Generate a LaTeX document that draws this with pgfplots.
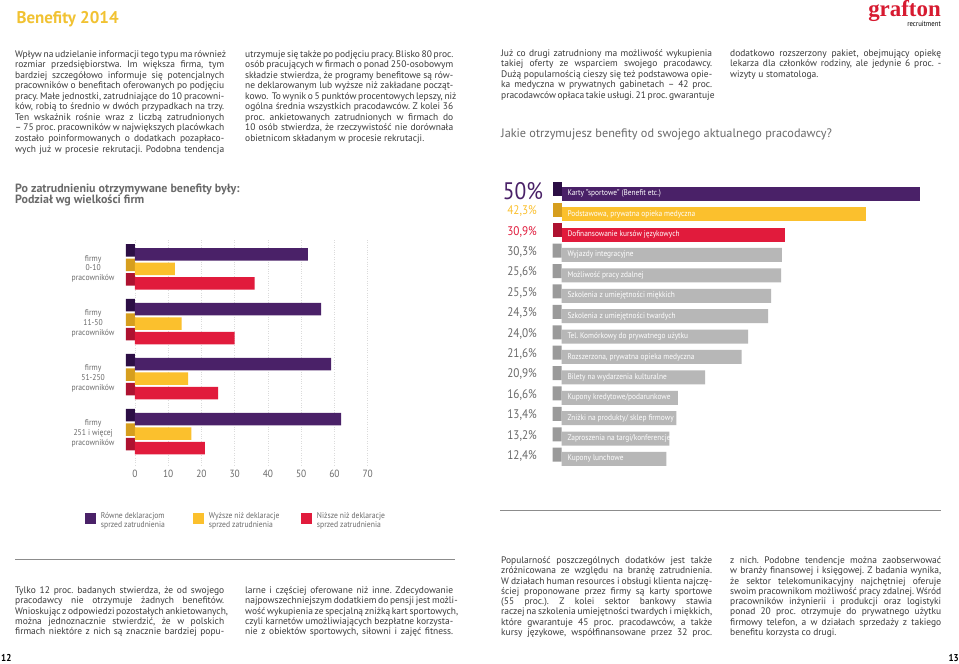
\documentclass[border=0pt]{standalone}
\usepackage{pgfplots}
\pgfplotsset{compat=1.18}
\usepackage{pgfplotstable}
\usepackage{fontspec}
\setmainfont{PT Sans}[FakeStretch=0.9]
\newfontfamily\bodyfont{PT Sans}[FakeStretch=1.0]
\newfontfamily\logofont{Liberation Serif}
\frenchspacing

\definecolor{purp}{HTML}{4A2168}
\definecolor{purpD}{HTML}{2C0E45}
\definecolor{yel}{HTML}{FBC02D}
\definecolor{yelD}{HTML}{D69E1E}
\definecolor{rd}{HTML}{E11B3C}
\definecolor{rdD}{HTML}{AE1230}
\definecolor{gr}{HTML}{B7B7B7}
\definecolor{grD}{HTML}{9A9A9A}
\definecolor{txt}{HTML}{3A3A3A}
\definecolor{lbl}{HTML}{6A6A6A}
\definecolor{gold}{HTML}{F1C232}
\definecolor{logo}{HTML}{D71A30}

\newlength\cw
\newcommand\J[1]{\hbox to \cw{#1}}
\newcommand\E[1]{\hbox to \cw{#1\hfil}}

\pgfplotsset{sq legend/.style={legend image code/.code={\fill[##1] (0bp,-5.3bp) rectangle (11bp,5.3bp);}},
  rows/.style={restrict expr to domain={\coordindex}{#1}}}

% benefity wg wielkosci firmy (proc.)
\pgfplotstableread{
grp rowne wyzsze nizsze
0 52 12 36
1 56 14 30
2 59 16 25
3 62 17 21
}\firmy

% benefity od aktualnego pracodawcy (dlugosc slupka)
\pgfplotstableread[col sep=semicolon]{
idx;len;lab
0;50.0;Karty "sportowe" (Benefit etc.)
1;42.5;Podstawowa, prywatna opieka medyczna
2;31.1;Dofinansowanie kursów językowych
3;30.7;Wyjazdy integracyjne
4;30.6;Możliwość pracy zdalnej
5;29.2;Szkolenia z umiejętności miękkich
6;28.8;Szkolenia z umiejętności twardych
7;26.0;Tel. Komórkowy do prywatnego użytku
8;25.1;Rozszerzona, prywatna opieka medyczna
9;20.0;Bilety na wydarzenia kulturalne
10;16.2;Kupony kredytowe/podarunkowe
11;16.0;Zniżki na produkty/ sklep firmowy
12;15.0;Zaproszenia na targi/konferencje
13;14.6;Kupony lunchowe
}\benefity

\begin{document}
\begin{tikzpicture}
\path[use as bounding box, fill=white] (0,0) rectangle (959bp,-664bp);

\begin{scope}[x=1bp, y=-1bp]
\node[anchor=west, text=gold, font=\bodyfont\fontsize{17}{17}\selectfont\bfseries] at (13,19) {Benefity 2014};
\node[anchor=east, text=logo, font=\logofont\bfseries\fontsize{23}{23}\selectfont, inner sep=0] at (941,11) {grafton};
\node[anchor=east, font=\fontsize{7.5}{8}\selectfont, inner sep=0] at (941,24) {recruitment};

\begin{scope}[every node/.style={anchor=base west, inner sep=0, text=txt, font=\bodyfont\fontsize{9.5}{10.6}\selectfont}]
\node at (15,57) {\setlength\cw{209bp}\parbox[t]{\cw}{%
\J{Wpływ na udzielanie informacji tego typu ma również}
\J{rozmiar przedsiębiorstwa. Im większa firma, tym}
\J{bardziej szczegółowo informuje się potencjalnych}
\J{pracowników o benefitach oferowanych po podjęciu}
\J{pracy. Małe jednostki, zatrudniające do 10 pracowni-}
\J{ków, robią to średnio w dwóch przypadkach na trzy.}
\J{Ten wskaźnik rośnie wraz z liczbą zatrudnionych}
\J{– 75 proc. pracowników w największych placówkach}
\J{zostało poinformowanych o dodatkach pozapłaco-}
\J{wych już w procesie rekrutacji. Podobna tendencja}}};
\node at (245,57) {\setlength\cw{208bp}\parbox[t]{\cw}{%
\J{utrzymuje się także po podjęciu pracy. Blisko 80 proc.}
\J{osób pracujących w firmach o ponad 250-osobowym}
\J{składzie stwierdza, że programy benefitowe są rów-}
\J{ne deklarowanym lub wyższe niż zakładane począt-}
\J{kowo.\ \ To wynik o 5 punktów procentowych lepszy, niż}
\J{ogólna średnia wszystkich pracodawców. Z kolei 36}
\J{proc. ankietowanych zatrudnionych w firmach do}
\J{10 osób stwierdza, że rzeczywistość nie dorównała}
\E{obietnicom składanym w procesie rekrutacji.}}};
\node at (501,56) {\setlength\cw{211bp}\parbox[t]{\cw}{%
\J{Już co drugi zatrudniony ma możliwość wykupienia}
\J{takiej oferty ze wsparciem swojego pracodawcy.}
\J{Dużą popularnością cieszy się też podstawowa opie-}
\J{ka medyczna w prywatnych gabinetach – 42 proc.}
\J{pracodawców opłaca takie usługi. 21 proc. gwarantuje}}};
\node at (730,56) {\setlength\cw{211bp}\parbox[t]{\cw}{%
\J{dodatkowo rozszerzony pakiet, obejmujący opiekę}
\J{lekarza dla członków rodziny, ale jedynie 6 proc. -}
\E{wizyty u stomatologa.}}};
\end{scope}

\begin{scope}[every node/.style={anchor=base west, inner sep=0, text=txt, font=\bodyfont\fontsize{9.5}{10.3}\selectfont}]
\node at (15,593.5) {\setlength\cw{209bp}\parbox[t]{\cw}{%
\J{Tylko 12 proc. badanych stwierdza, że od swojego}
\J{pracodawcy nie otrzymuje żadnych benefitów.}
\J{Wnioskując z odpowiedzi pozostałych ankietowanych,}
\J{można jednoznacznie stwierdzić, że w polskich}
\J{firmach niektóre z nich są znacznie bardziej popu-}}};
\node at (245,593.5) {\setlength\cw{208bp}\parbox[t]{\cw}{%
\J{larne i częściej oferowane niż inne. Zdecydowanie}
\J{najpowszechniejszym dodatkiem do pensji jest możli-}
\J{wość wykupienia ze specjalną zniżką kart sportowych,}
\J{czyli karnetów umożliwiających bezpłatne korzysta-}
\J{nie z obiektów sportowych, siłowni i zajęć fitness.}}};
\node at (501,563.5) {\setlength\cw{211bp}\parbox[t]{\cw}{%
\J{Popularność poszczególnych dodatków jest także}
\J{zróżnicowana ze względu na branżę zatrudnienia.}
\J{W działach human resources i obsługi klienta najczę-}
\J{ściej proponowane przez firmy są karty sportowe}
\J{(55 proc.). Z kolei sektor bankowy stawia}
\J{raczej na szkolenia umiejętności twardych i miękkich,}
\J{które gwarantuje 45 proc. pracodawców, a także}
\J{kursy językowe, współfinansowane przez 32 proc.}}};
\node at (730,563.5) {\setlength\cw{211bp}\parbox[t]{\cw}{%
\J{z nich. Podobne tendencje można zaobserwować}
\J{w branży finansowej i księgowej. Z badania wynika,}
\J{że sektor telekomunikacyjny najchętniej oferuje}
\J{swoim pracownikom możliwość pracy zdalnej. Wśród}
\J{pracowników inżynierii i produkcji oraz logistyki}
\J{ponad 20 proc. otrzymuje do prywatnego użytku}
\J{firmowy telefon, a w działach sprzedaży z takiego}
\E{benefitu korzysta co drugi.}}};
\end{scope}

\node[anchor=base west, inner sep=0, text=lbl, font=\bodyfont\fontsize{12}{12}\selectfont\bfseries] at (15,192) {Po zatrudnieniu otrzymywane benefity były:};
\node[anchor=base west, inner sep=0, text=lbl, font=\bodyfont\fontsize{12}{12}\selectfont\bfseries] at (15,203) {Podział wg wielkości firm};
\node[anchor=base west, inner sep=0, text=lbl, font=\bodyfont\fontsize{12.3}{13}\selectfont] at (501,137) {Jakie otrzymujesz benefity od swojego aktualnego pracodawcy?};

\draw[black!45, line width=1bp] (15,559.3) -- (455,559.3);
\draw[black!45, line width=1bp] (500,510) -- (941,510);

\node[anchor=base west, inner sep=0, font=\fontsize{10}{10}\selectfont\bfseries] at (1,661) {12};
\node[anchor=base east, inner sep=0, font=\fontsize{10}{10}\selectfont\bfseries] at (959,661) {13};
\end{scope}

% lewy wykres
\begin{axis}[
  at={(125bp,-240bp)}, anchor=north west,
  scale only axis, width=242.7bp, height=227bp,
  xmin=-3, xmax=70, ymin=-0.525, ymax=3.61, y dir=reverse,
  axis line style={draw=none}, major tick length=0,
  xtick={0,10,...,70}, ytick={0,1,2,3},
  yticklabels={{firmy\\0-10\\pracowników},{firmy\\11-50\\pracowników},{firmy\\51-250\\pracowników},{firmy\\251 i więcej\\pracowników}},
  yticklabel style={align=center, font=\fontsize{8.5}{10}\selectfont, text=lbl, xshift=-7bp},
  xticklabel style={font=\fontsize{10.5}{12}\selectfont, text=lbl},
  /pgf/number format/assume math mode=true,
  xmajorgrids, grid style={dotted, black!14, line width=0.6pt},
  legend columns=3,
  legend style={at={(axis description cs:-0.178,-0.19)}, anchor=north west, draw=none, fill=none,
    font=\fontsize{8.5}{9.5}\selectfont, text=lbl, nodes={inner sep=0pt}, cells={anchor=west},
    /tikz/every odd column/.append style={column sep=5bp},
    /tikz/every even column/.append style={column sep=4bp}},
]
\addplot[xbar, fill=purpD, draw=none, bar width=12.5bp, bar shift=18.5bp, forget plot] table[x expr=-2.7, y=grp] {\firmy};
\addplot[xbar, fill=yelD, draw=none, bar width=12.5bp, bar shift=4bp, forget plot] table[x expr=-2.7, y=grp] {\firmy};
\addplot[xbar, fill=rdD, draw=none, bar width=12.5bp, bar shift=-10.5bp, forget plot] table[x expr=-2.7, y=grp] {\firmy};
\addplot[xbar, fill=purp, draw=none, bar width=12.5bp, bar shift=14.5bp, sq legend] table[x=rowne, y=grp] {\firmy};
\addlegendentry{\parbox{88bp}{Równe deklaracjom\\sprzed zatrudnienia}}
\addplot[xbar, fill=yel, draw=none, bar width=12.5bp, bar shift=0bp, sq legend] table[x=wyzsze, y=grp] {\firmy};
\addlegendentry{\parbox{88bp}{Wyższe niż deklaracje\\sprzed zatrudnienia}}
\addplot[xbar, fill=rd, draw=none, bar width=12.5bp, bar shift=-14.5bp, sq legend] table[x=nizsze, y=grp] {\firmy};
\addlegendentry{\parbox{88bp}{Niższe niż deklaracje\\sprzed zatrudnienia}}
\end{axis}

% prawy wykres
\begin{axis}[
  at={(552.4bp,-181.5bp)}, anchor=north west,
  scale only axis, width=382.2bp, height=289.7bp,
  xmin=-1.3, xmax=52, ymin=-0.6, ymax=13.6, y dir=reverse,
  axis line style={draw=none}, major tick length=0,
  xtick=\empty, ytick={0,1,...,13},
  yticklabels={{\color{purp}\fontsize{24}{24}\selectfont 50\%\hspace*{-6bp}},{\color{yel}42,3\%},{\color{rd}30,9\%},
    {30,3\%},{25,6\%},{25,5\%},{24,3\%},{24,0\%},{21,6\%},{20,9\%},{16,6\%},{13,4\%},{13,2\%},{12,4\%}},
  yticklabel style={font=\fontsize{12.5}{13}\selectfont, text=lbl, xshift=-12bp, yshift=3bp},
  clip=false,
]
\addplot[xbar, fill=purpD, draw=none, bar width=14bp, bar shift=4.3bp, rows=0:0] table[x expr=-1.26, y=idx] {\benefity};
\addplot[xbar, fill=yelD, draw=none, bar width=14bp, bar shift=4.3bp, rows=1:1] table[x expr=-1.26, y=idx] {\benefity};
\addplot[xbar, fill=rdD, draw=none, bar width=14bp, bar shift=4.3bp, rows=2:2] table[x expr=-1.26, y=idx] {\benefity};
\addplot[xbar, fill=grD, draw=none, bar width=14bp, bar shift=4.3bp, rows=3:13] table[x expr=-1.26, y=idx] {\benefity};
\addplot[xbar, fill=purp, draw=none, bar width=14bp, bar shift=0bp, rows=0:0] table[x=len, y=idx] {\benefity};
\addplot[xbar, fill=yel, draw=none, bar width=14bp, bar shift=0bp, rows=1:1] table[x=len, y=idx] {\benefity};
\addplot[xbar, fill=rd, draw=none, bar width=14bp, bar shift=0bp, rows=2:2] table[x=len, y=idx] {\benefity};
\addplot[xbar, fill=gr, draw=none, bar width=14bp, bar shift=0bp, rows=3:13] table[x=len, y=idx] {\benefity};
\addplot[draw=none, mark=none, nodes near coords, point meta=explicit symbolic,
  nodes near coords style={anchor=west, text=white, font=\fontsize{8.2}{9}\selectfont, inner sep=0}]
  table[x expr=0.78, y=idx, meta=lab] {\benefity};
\end{axis}
\end{tikzpicture}
\end{document}
